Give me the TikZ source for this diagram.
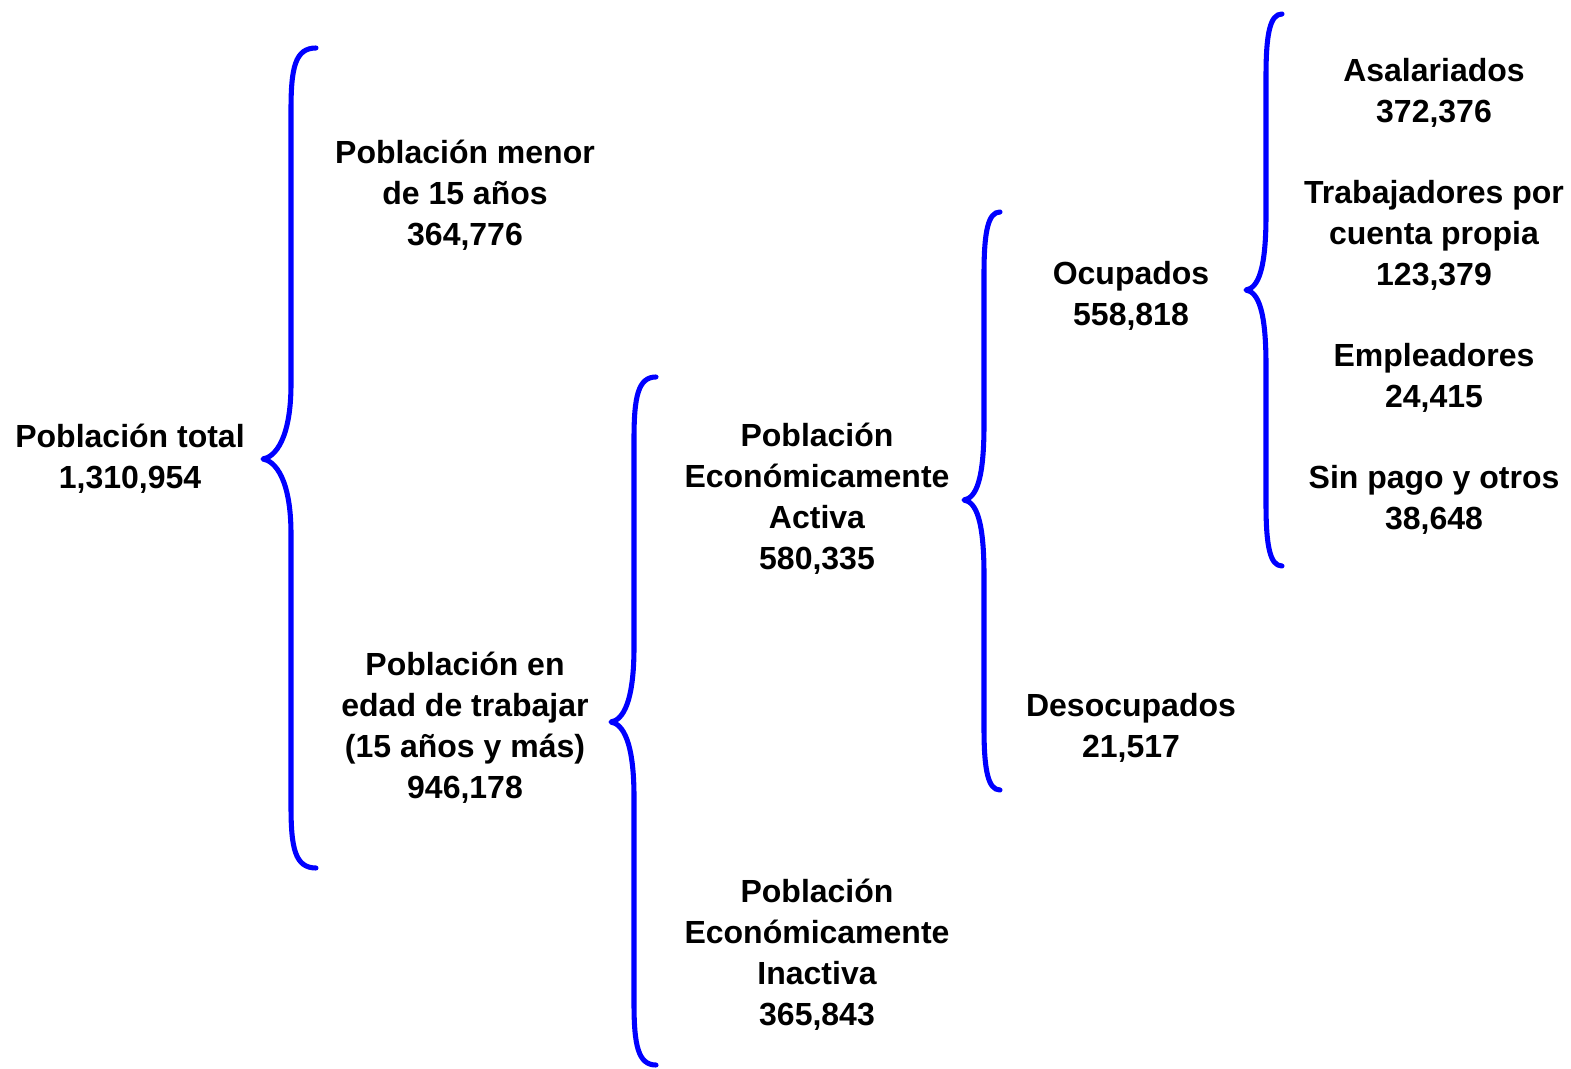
\documentclass[tikz,border=0pt]{standalone}
\usepackage{fontspec}
\setmainfont{Liberation Sans}
\begin{document}
\begin{tikzpicture}[x=0.75pt,y=-0.75pt,
  lbl/.style={align=center,font=\fontsize{24pt}{30.75pt}\selectfont\bfseries,inner sep=0pt},
  brace/.style={draw=blue,line width=3.8pt,line cap=round,line join=round}]
\useasboundingbox (0,0) rectangle (1571,1069);
% braces
\newcommand{\mybrace}[6]{%
 \draw[brace] (#3,#4) .. controls (#2+4,#4) and (#2,#4+20) .. (#2,#4+62) -- (#2,#6-75) .. controls (#2,#6-20) and (#1+12,#6-2) .. (#1,#6) .. controls (#1+12,#6+2) and (#2,#6+20) .. (#2,#6+75) -- (#2,#5-62) .. controls (#2,#5-20) and (#2+4,#5) .. (#3,#5);}
\mybrace{263}{291}{316}{48}{868}{459}
\mybrace{611}{634}{656}{377}{1065}{722}
\mybrace{964}{984}{1000}{212}{790}{500}
\mybrace{1246}{1266}{1282}{14}{566}{290}
% labels
\node[lbl] (tot) at (130,459) {Población total\\1,310,954};
\node[lbl] (men) at (465,195) {Población menor\\de 15 años\\364,776};
\node[lbl] (pet) at (465,728) {Población en\\edad de trabajar\\(15 años y más)\\946,178};
\node[lbl] (pea) at (817,499) {Población\\Económicamente\\Activa\\580,335};
\node[lbl] (pei) at (817,955) {Población\\Económicamente\\Inactiva\\365,843};
\node[lbl] (ocu) at (1131,296) {Ocupados\\558,818};
\node[lbl] (des) at (1131,728) {Desocupados\\21,517};
\node[lbl] (asa) at (1434,93) {Asalariados\\372,376};
\node[lbl] (tra) at (1434,235) {Trabajadores por\\cuenta propia\\123,379};
\node[lbl] (emp) at (1434,378) {Empleadores\\24,415};
\node[lbl] (sin) at (1434,500) {Sin pago y otros\\38,648};
\end{tikzpicture}
\end{document}
